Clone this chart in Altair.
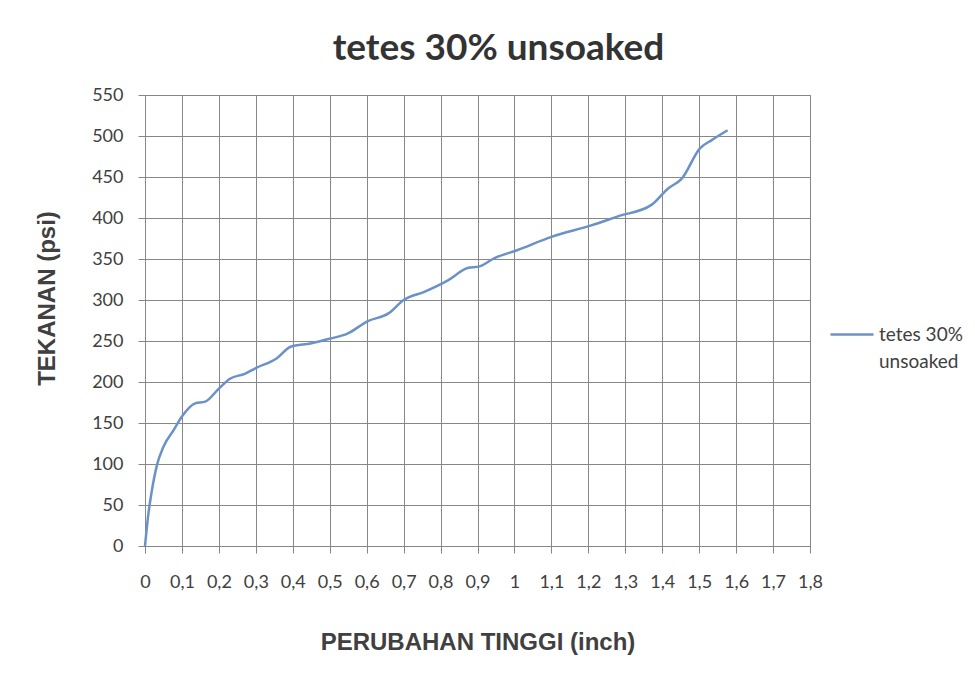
import altair as alt
import pandas as pd

series_name = "tetes 30% unsoaked"
perubahan_tinggi = [0, 0.008, 0.018, 0.032, 0.05, 0.077, 0.1, 0.136, 0.163, 0.2, 0.23, 0.27, 0.30,
                    0.357, 0.394, 0.448, 0.502, 0.548, 0.602, 0.66, 0.70, 0.756, 0.82, 0.873,
                    0.905, 0.946, 1.009, 1.10, 1.208, 1.28, 1.371, 1.416, 1.453, 1.502, 1.534, 1.577]
tekanan = [0, 35, 66, 98, 121, 141, 158, 174, 176, 192, 204, 210, 217, 229, 243, 247, 253, 259,
           274, 284, 300, 310, 324, 339, 341, 351, 361, 377, 391, 402, 416, 436, 448, 485, 495, 507]
x_ticks = [round(i * 0.1, 1) for i in range(19)]
y_ticks = list(range(0, 551, 50))

df = pd.DataFrame({"x": perubahan_tinggi, "y": tekanan, "seri": series_name})

FONT = "Lato"
TITLE_FONT = "Liberation Sans"
GRID = "#878787"
TXT = "#404040"

chart = alt.Chart(df).mark_line(
    interpolate="monotone", strokeWidth=2.5
).encode(
    x=alt.X("x:Q",
            scale=alt.Scale(domain=[0, 1.8], nice=False, zero=True),
            axis=alt.Axis(values=x_ticks, title="PERUBAHAN TINGGI (inch)",
                          labelExpr="replace(format(datum.value, '.1~f'), '.', ',')",
                          labelPadding=20, tickSize=7, labelFlush=False,
                          titleY=96, titleBaseline="middle")),
    y=alt.Y("y:Q",
            scale=alt.Scale(domain=[0, 550], nice=False),
            axis=alt.Axis(values=y_ticks, title="TEKANAN (psi)",
                          labelPadding=15, tickSize=7,
                          titleX=-98, titleY=203, titleAngle=-90,
                          titleAlign="center", titleBaseline="middle")),
    color=alt.Color("seri:N",
                    scale=alt.Scale(domain=[series_name], range=["#6a92c8"]),
                    legend=alt.Legend(title=None, orient="none", legendX=684, legendY=223,
                                      symbolType="M-1,-0.3L1,-0.3", symbolSize=1849,
                                      symbolStrokeWidth=2.5, labelOffset=4,
                                      labelExpr="['tetes 30%', 'unsoaked']",
                                      labelFontSize=19, labelFont=FONT, labelColor=TXT,
                                      labelBaseline="alphabetic", labelLimit=200)),
).properties(
    width=665,
    height=451,
    background="white",
    autosize=alt.AutoSizeParams(type="none"),
    padding={"left": 137, "top": 87, "right": 157, "bottom": 120},
    title=alt.Title(series_name, fontSize=37, font=FONT, fontWeight="bold",
                    color="#333333", dx=21, offset=18, anchor="middle"),
).configure_view(
    stroke=GRID, strokeWidth=1
).configure_axis(
    grid=True, gridColor=GRID, gridOpacity=1, gridWidth=1,
    domainColor=GRID, domainWidth=1, tickColor=GRID, tickWidth=1,
    labelFont=FONT, labelFontSize=18, labelColor=TXT,
    titleFont=TITLE_FONT, titleFontSize=24, titleFontWeight="bold", titleColor=TXT,
)
chart.config.style = {"guide-label": {"lineHeight": 27}}

chart.save("out.html", embed_options={"renderer": "svg", "actions": False})
